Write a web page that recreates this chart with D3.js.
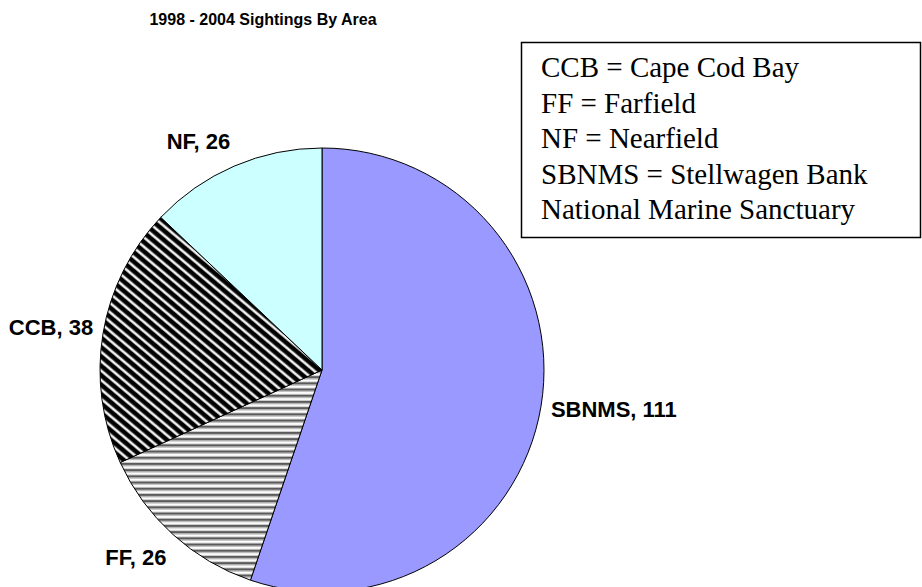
<!DOCTYPE html>
<html>
<head>
<meta charset="utf-8">
<script src="https://cdn.jsdelivr.net/npm/d3@7"></script>
<style>
  body { margin: 0; background: #fff; }
</style>
</head>
<body>
<div id="chart"></div>
<script>
// data
var areas = ["SBNMS", "FF", "CCB", "NF"];
var sightings = [111, 26, 38, 26];
var legendLines = [
    "CCB = Cape Cod Bay",
    "FF = Farfield",
    "NF = Nearfield",
    "SBNMS = Stellwagen Bank",
    "National Marine Sanctuary"
];
var title = "1998 - 2004 Sightings By Area";

function init(){
    var w = 922;
    var h = 587;
    var cx = 322, cy = 370;
    var radius = 222;

    var svg = d3.select("#chart")
                .append("svg")
                .attr("width", w)
                .attr("height", h);

    var defs = svg.append("defs");

    // diagonal black / white hatch for CCB
    var diag = defs.append("pattern")
        .attr("id", "diag")
        .attr("patternUnits", "userSpaceOnUse")
        .attr("width", 7.2)
        .attr("height", 7.2)
        .attr("patternTransform", "rotate(40)");
    diag.append("rect").attr("width", 7.2).attr("height", 7.2).attr("fill", "#000");
    diag.append("rect").attr("y", 4.6).attr("width", 7.2).attr("height", 2.6).attr("fill", "#fff");
    diag.append("rect").attr("y", 4.0).attr("width", 7.2).attr("height", 0.6).attr("fill", "#777");
    diag.append("rect").attr("y", 7.2 - 0.6).attr("width", 7.2).attr("height", 0.6).attr("fill", "#777");

    // horizontal grey / white stripes for FF
    var horiz = defs.append("pattern")
        .attr("id", "horiz")
        .attr("patternUnits", "userSpaceOnUse")
        .attr("width", 6.2)
        .attr("height", 6.2);
    horiz.append("rect").attr("width", 6.2).attr("height", 6.2).attr("fill", "#fff");
    horiz.append("rect").attr("y", 0).attr("width", 6.2).attr("height", 2.2).attr("fill", "#5a5a5a");
    horiz.append("rect").attr("y", 2.2).attr("width", 6.2).attr("height", 1).attr("fill", "#a8a8a8");
    horiz.append("rect").attr("y", 5.2).attr("width", 6.2).attr("height", 1).attr("fill", "#c8c8c8");

    var fills = d3.scaleOrdinal()
                  .domain(areas)
                  .range(["#9999ff", "url(#horiz)", "url(#diag)", "#ccffff"]);

    var pie = d3.pie()
                .sort(null)
                .value(function(d) { return d.value; });

    var data = areas.map(function(a, i) {
        return {name: a, value: sightings[i]};
    });
    var arcs = pie(data);

    var arc = d3.arc().innerRadius(0).outerRadius(radius);

    var g = svg.append("g").attr("transform", "translate(" + cx + "," + cy + ")");

    g.selectAll("path")
        .data(arcs)
        .enter()
        .append("path")
        .attr("d", arc)
        .attr("fill", function(d) { return fills(d.data.name); })
        .attr("stroke", "#000")
        .attr("stroke-width", 1);

    // labels outside the pie
    g.selectAll("text.lbl")
        .data(arcs)
        .enter()
        .append("text")
        .attr("class", "lbl")
        .text(function(d) { return d.data.name + ", " + d.data.value; })
        .attr("x", function(d) {
            var a = (d.startAngle + d.endAngle) / 2;
            return Math.sin(a) * (radius + 10);
        })
        .attr("y", function(d) {
            var a = (d.startAngle + d.endAngle) / 2;
            var c = Math.cos(a);
            return -c * (radius + 10) + 5 - c * (c < 0 ? 24 : 14);
        })
        .attr("text-anchor", function(d) {
            var a = (d.startAngle + d.endAngle) / 2;
            return Math.sin(a) > 0 ? "start" : "end";
        })
        .style("font-family", "Arial, 'Liberation Sans', sans-serif")
        .style("font-weight", "bold")
        .style("font-size", "22px");

    svg.append("text")
        .text(title)
        .attr("x", 263)
        .attr("y", 25)
        .attr("text-anchor", "middle")
        .style("font-family", "Arial, 'Liberation Sans', sans-serif")
        .style("font-weight", "bold")
        .style("font-size", "16px");

    // legend box
    svg.append("rect")
        .attr("x", 521.5)
        .attr("y", 42.5)
        .attr("width", 399)
        .attr("height", 195)
        .attr("fill", "#fff")
        .attr("stroke", "#000")
        .attr("stroke-width", 1.5);

    svg.selectAll("text.leg")
        .data(legendLines)
        .enter()
        .append("text")
        .attr("class", "leg")
        .text(function(d) { return d; })
        .attr("x", 541)
        .attr("y", function(d, i) { return 77 + i * 35.5; })
        .style("font-family", "'Times New Roman', 'Liberation Serif', serif")
        .style("font-size", "29px");
}
window.onload = init;
</script>
</body>
</html>
